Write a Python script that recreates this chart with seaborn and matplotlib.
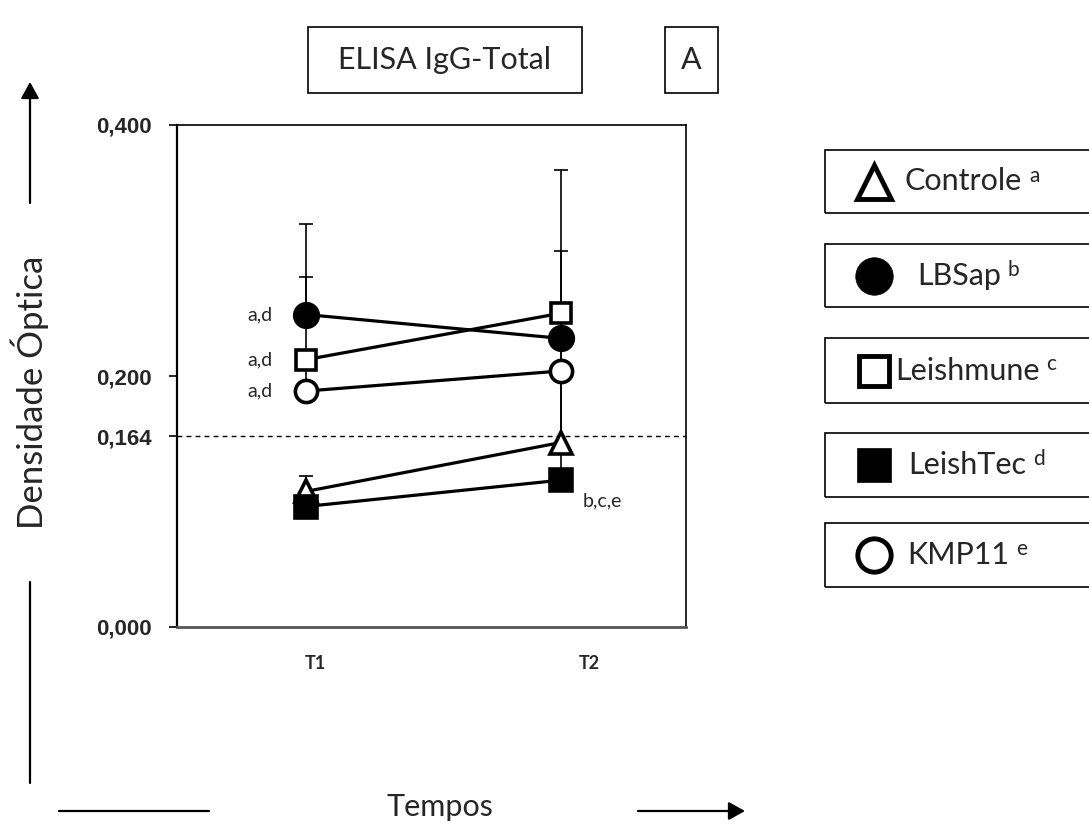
import matplotlib
matplotlib.use("Agg")
import matplotlib.pyplot as plt
import seaborn as sns
import pandas as pd
from matplotlib.patches import Rectangle, FancyArrowPatch
from matplotlib.lines import Line2D
from matplotlib.text import Annotation
from matplotlib.transforms import ScaledTranslation

# ---------------- data ----------------
times = ["T1", "T2"]
groups = ["Controle", "LBSap", "Leishmune", "LeishTec", "KMP11"]
group_letters = ["a", "b", "c", "d", "e"]

controle = [0.108, 0.147]
lbsap = [0.249, 0.230]
leishmune = [0.213, 0.250]
leishtec = [0.096, 0.117]
kmp11 = [0.188, 0.204]

controle_err = [0.012, 0.153]
lbsap_err = [0.030, 0.0]
leishmune_err = [0.0, 0.0]
leishtec_err = [0.0, 0.247]
kmp11_err = [0.133, 0.0]

cutoff_value = 0.152
cutoff_label = "0,164"
ytick_values = [0.0, 0.2, 0.4]
ytick_labels = ["0,000", "0,200", "0,400"]

annot_groups = ["LBSap", "Leishmune", "KMP11", "LeishTec"]
annot_times = ["T1", "T1", "T1", "T2"]
annot_texts = ["a,d", "a,d", "a,d", "b,c,e"]

title_text = "ELISA IgG-Total"
panel_text = "A"
ylabel_text = "Densidade Óptica"
xlabel_text = "Tempos"

values = [controle, lbsap, leishmune, leishtec, kmp11]
errors = [controle_err, lbsap_err, leishmune_err, leishtec_err, kmp11_err]

rows = []
for g, vals, errs in zip(groups, values, errors):
    for t, v, e in zip(times, vals, errs):
        rows.append({"grupo": g, "tempo": t, "valor": v, "erro": e})
df = pd.DataFrame(rows)

# ---------------- styles ----------------
marker_map = {"Controle": "^", "LBSap": "o", "Leishmune": "s", "LeishTec": "s", "KMP11": "o"}
face_map = {"Controle": "white", "LBSap": "black", "Leishmune": "white", "LeishTec": "black", "KMP11": "white"}
ms_map = {"Controle": 16, "LBSap": 17, "Leishmune": 15, "LeishTec": 16, "KMP11": 16}

sns.set_style("white")
plt.rcParams["font.family"] = ["Lato", "DejaVu Sans"]

W, H = 1089, 827
fig = plt.figure(figsize=(W / 100, H / 100), dpi=100)


def fx(x):
    return x / W


def fy(y):
    return 1 - y / H


ax = fig.add_axes([fx(177), fy(627), fx(686) - fx(177), fy(125) - fy(627)])

# error bars (upper only)
for g in groups:
    sub = df[df["grupo"] == g]
    ax.errorbar(sub["tempo"], sub["valor"], yerr=[[0] * len(sub), sub["erro"]],
                fmt="none", ecolor="black", elinewidth=1.2, capsize=4.8,
                capthick=1.2, zorder=1)

# lines + markers
for g in groups:
    sub = df[df["grupo"] == g]
    sns.lineplot(data=sub, x="tempo", y="valor", ax=ax, color="black",
                 linewidth=2.3, marker=marker_map[g], markersize=ms_map[g],
                 markerfacecolor=face_map[g], markeredgecolor="black",
                 markeredgewidth=2.6, zorder=3, legend=False)

ax.axhline(cutoff_value, color="black", linestyle=(0, (3.5, 3)), linewidth=1.0, zorder=0.5)

# annotations
for g, t, txt in zip(annot_groups, annot_times, annot_texts):
    v = df[(df["grupo"] == g) & (df["tempo"] == t)]["valor"].iloc[0]
    if t == "T1":
        ax.annotate(txt, xy=(t, v), xytext=(-24, 0), textcoords="offset points",
                    ha="right", va="center", fontsize=14)
    else:
        ax.annotate(txt, xy=(t, v), xytext=(16, -15), textcoords="offset points",
                    ha="left", va="center", fontsize=14)

ax.set_xlim(-0.505, 1.491)
ax.set_ylim(0, 0.4)
ax.set_yticks(ytick_values + [cutoff_value])
ax.set_yticklabels(ytick_labels + [cutoff_label], fontsize=16, fontweight="bold",
                   family="Liberation Sans")
ax.tick_params(axis="y", which="both", left=True, length=6, width=1.2, pad=12, color="black")
ax.tick_params(axis="x", bottom=False, pad=17)
ax.set_xticks([0, 1])
ax.set_xticklabels(times, fontsize=13, fontweight="bold")
for lab, dx in zip(ax.get_xticklabels(), [10, 29]):
    lab.set_transform(lab.get_transform() + ScaledTranslation(dx / 100, 0, fig.dpi_scale_trans))
ax.set_xlabel("")
ax.set_ylabel("")
for s in ax.spines.values():
    s.set_color("black")
    s.set_linewidth(1.2)
ax.spines["left"].set_linewidth(1.6)
ax.spines["bottom"].set_color("#555555")
ax.spines["bottom"].set_linewidth(2)

# ---------------- figure decorations ----------------
def box(x0, y0, x1, y1, lw=1.2):
    fig.add_artist(Rectangle((fx(x0), fy(y1)), fx(x1) - fx(x0), fy(y0) - fy(y1),
                             transform=fig.transFigure, fill=False, edgecolor="black",
                             linewidth=lw))


def fline(x0, y0, x1, y1, arrow=False):
    style = "-|>,head_length=0.45,head_width=0.25" if arrow else "-"
    fig.add_artist(FancyArrowPatch((fx(x0), fy(y0)), (fx(x1), fy(y1)),
                                   transform=fig.transFigure, arrowstyle=style,
                                   mutation_scale=22, color="black", linewidth=1.6,
                                   shrinkA=0, shrinkB=0))


box(308, 27, 582, 93)
fig.text(fx(445), fy(60), title_text, ha="center", va="center", fontsize=22)
box(665, 27, 718, 93)
fig.text(fx(691.5), fy(60), panel_text, ha="center", va="center", fontsize=22)

fig.text(fx(30), fy(392), ylabel_text, rotation=90, ha="center", va="center", fontsize=25)
fline(30, 203, 30, 82, arrow=True)
fline(30, 582, 30, 783)

fig.text(fx(440), fy(807), xlabel_text, ha="center", va="center", fontsize=22)
fline(59, 811, 209, 811)
fline(638, 811, 745, 811, arrow=True)

# legend boxes
leg_boxes = [(150, 213), (244, 307), (338, 403), (433, 497), (523, 587)]
leg_text_x = [905, 917, 895, 908, 907]
leg_ms = {"Controle": 24, "LBSap": 27, "Leishmune": 22, "LeishTec": 25, "KMP11": 24}
for g, letter, (y0, y1), tx in zip(groups, group_letters, leg_boxes, leg_text_x):
    box(825, y0, 1100, y1, lw=1.2)
    yc = (y0 + y1) / 2
    fig.add_artist(Line2D([fx(874)], [fy(yc)], transform=fig.transFigure,
                          marker=marker_map[g], markersize=leg_ms[g],
                          markerfacecolor=face_map[g], markeredgecolor="black",
                          markeredgewidth=3.5 if face_map[g] == "white" else 0.5,
                          linestyle="none"))
    t = fig.text(fx(tx), fy(yc), g, ha="left", va="center", fontsize=22)
    fig.add_artist(Annotation(letter, xy=(1, 0.5), xycoords=t,
                              xytext=(5, 0), textcoords="offset points",
                              ha="left", va="baseline", fontsize=15))

fig.savefig("out.png", dpi=100)
